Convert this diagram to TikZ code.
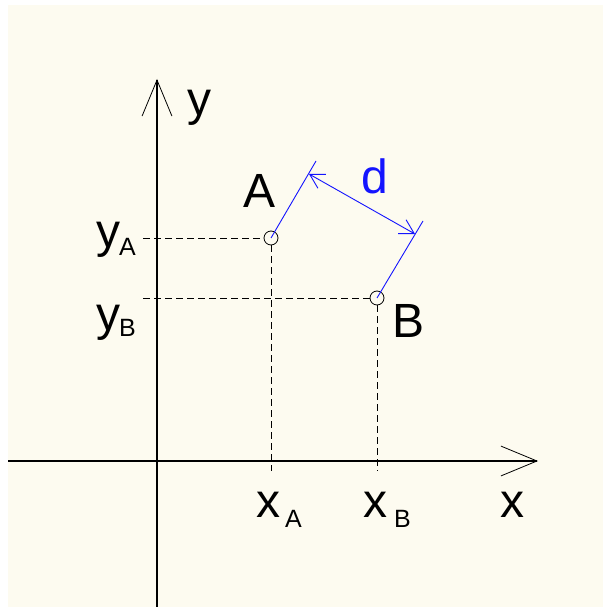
\documentclass[tikz,border=0pt]{standalone}
\usepackage{fontspec}
\setmainfont{Liberation Sans}
\usetikzlibrary{arrows.meta}
\definecolor{cream}{RGB}{253,251,240}
\definecolor{dimblue}{RGB}{20,20,255}
\newcommand{\subf}[1]{{\fontsize{25}{25}\selectfont #1}}
\tikzset{
  lbl/.style={anchor=base west, inner sep=0pt, font=\fontsize{48}{48}\selectfont},
  axis/.style={line width=1.1pt, -{Straight Barb[angle=45:39pt, line width=0.8pt]}},
  proj/.style={line width=0.9pt, dash pattern=on 7pt off 4pt},
  ptmark/.style={circle, draw, line width=0.8pt, minimum size=14pt, inner sep=0pt},
  ext/.style={dimblue, line width=0.9pt},
  dimline/.style={dimblue, line width=0.9pt, {Straight Barb[angle=60:16pt]}-{Straight Barb[angle=60:16pt]}}
}
\begin{document}
\begin{tikzpicture}[x=1pt,y=-1pt]
\useasboundingbox (0,0) rectangle (603,607);
\fill[white] (0,0) rectangle (603,607);
\fill[cream] (8,5) rectangle (603,607);
% axes
\coordinate (ybot) at (157,607);
\coordinate (ytip) at (157,79);
\coordinate (xleft) at (8,461);
\coordinate (xtip) at (538,461);
\draw[axis] (ybot) -- (ytip);
\draw[axis] (xleft) -- (xtip);
% points
\node[ptmark] (A) at (271,238) {};
\node[ptmark] (B) at (377,298) {};
\coordinate (yAl) at (143,238);
\coordinate (yBl) at (143,298);
\coordinate (xAb) at (271,471);
\coordinate (xBb) at (377,471);
\draw[proj] (yAl) -- (A);
\draw[proj] (yBl) -- (B);
\draw[proj] (A) -- (xAb);
\draw[proj] (B) -- (xBb);
% dimension
\coordinate (Aext) at (316,161);
\coordinate (Bext) at (423,221);
\coordinate (dA) at (309,174);
\coordinate (dB) at (415,234);
\draw[ext] (A.center) -- (Aext);
\draw[ext] (B.center) -- (Bext);
\draw[dimline] (dA) -- (dB);
% labels
\node[lbl] (ly) at (187,115) {y};
\node[lbl] (lA) at (243,207) {A};
\node[lbl, text=dimblue] (ld) at (361,193) {d};
\node[lbl] (lB) at (392,337) {B};
\node[lbl] (lyA) at (96,247) {y\kern-1pt\raisebox{-8pt}{\subf{A}}};
\node[lbl] (lyB) at (96,330) {y\kern-1pt\raisebox{-6pt}{\subf{B}}};
\node[lbl] (lxA) at (256,517) {x\kern5pt\raisebox{-10pt}{\subf{A}}};
\node[lbl] (lxB) at (363,517) {x\kern7pt\raisebox{-10pt}{\subf{B}}};
\node[lbl] (lx) at (500,517) {x};
\end{tikzpicture}
\end{document}
